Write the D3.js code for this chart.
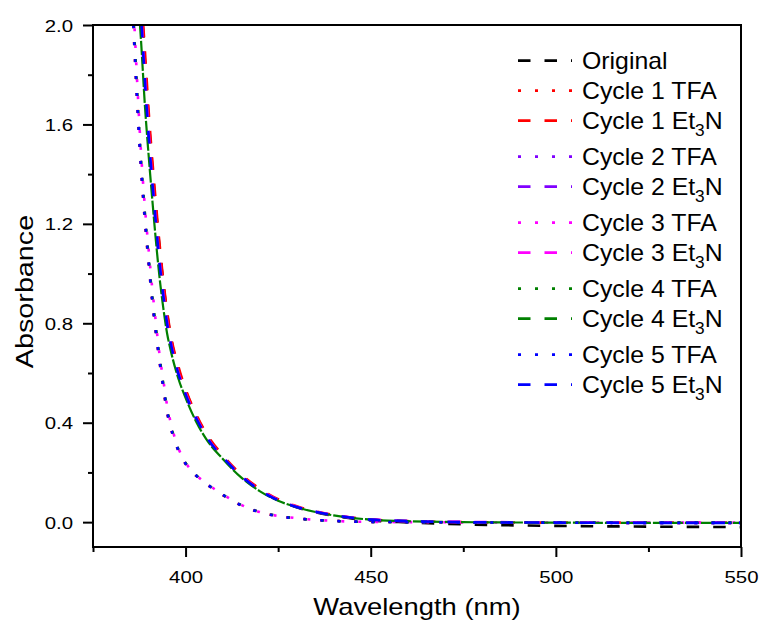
<!DOCTYPE html>
<html>
<head>
<meta charset="utf-8">
<script src="https://cdn.jsdelivr.net/npm/d3@7"></script>
<style>
  html, body { margin: 0; padding: 0; background: #fff; }
  svg { display: block; font-family: "Liberation Sans", Arial, sans-serif; }
</style>
</head>
<body>
<svg id="chart" width="762" height="621"></svg>
<script>
// Wavelength grid (nm) shared by every spectrum
const wavelengths = [385, 386, 387, 388, 389, 390, 391, 392, 393, 394, 395, 396, 398, 400,
                     403, 406, 410, 415, 420, 425, 430, 440, 450, 460, 475, 500, 525, 550];

// Absorbance values for each measurement
const original   = [2.85, 2.60, 2.35, 2.10, 1.86, 1.63, 1.43, 1.26, 1.10, 0.96, 0.84, 0.745, 0.62, 0.53,
                    0.425, 0.343, 0.266, 0.188, 0.130, 0.088, 0.060, 0.025, 0.007, -0.001, -0.009, -0.015, -0.018, -0.020];
const cycle1TFA  = [2.28, 1.96, 1.66, 1.41, 1.21, 1.04, 0.885, 0.755, 0.64, 0.535, 0.44, 0.378, 0.288, 0.234,
                    0.184, 0.149, 0.109, 0.067, 0.040, 0.024, 0.015, 0.005, 0.001, 0.000, -0.001, -0.002, -0.003, -0.003];
const cycle1Et3N = [2.90, 2.63, 2.38, 2.13, 1.90, 1.66, 1.46, 1.28, 1.115, 0.97, 0.85, 0.753, 0.63, 0.535,
                    0.43, 0.347, 0.27, 0.192, 0.135, 0.092, 0.064, 0.029, 0.011, 0.004, 0.000, -0.002, -0.002, -0.002];
const cycle2TFA  = [2.33, 2.00, 1.70, 1.44, 1.24, 1.06, 0.90, 0.775, 0.655, 0.55, 0.45, 0.385, 0.293, 0.237,
                    0.186, 0.151, 0.111, 0.069, 0.041, 0.025, 0.015, 0.005, 0.001, 0.000, -0.001, -0.002, -0.003, -0.003];
const cycle2Et3N = [2.72, 2.47, 2.23, 2.00, 1.75, 1.54, 1.35, 1.18, 1.03, 0.90, 0.79, 0.715, 0.595, 0.51,
                    0.41, 0.332, 0.26, 0.185, 0.128, 0.088, 0.061, 0.028, 0.010, 0.004, 0.000, -0.002, -0.002, -0.003];
const cycle3TFA  = [2.40, 2.06, 1.75, 1.48, 1.27, 1.10, 0.94, 0.80, 0.67, 0.57, 0.47, 0.40, 0.30, 0.24,
                    0.188, 0.152, 0.112, 0.070, 0.041, 0.025, 0.016, 0.005, 0.001, 0.000, -0.001, -0.002, -0.002, -0.002];
const cycle3Et3N = [2.78, 2.53, 2.28, 2.05, 1.80, 1.58, 1.38, 1.21, 1.05, 0.92, 0.81, 0.725, 0.605, 0.52,
                    0.418, 0.337, 0.263, 0.187, 0.130, 0.089, 0.062, 0.028, 0.011, 0.004, 0.001, -0.001, -0.002, -0.002];
const cycle4TFA  = [2.35, 2.01, 1.71, 1.45, 1.245, 1.07, 0.91, 0.78, 0.66, 0.555, 0.455, 0.39, 0.295, 0.238,
                    0.187, 0.151, 0.111, 0.069, 0.041, 0.025, 0.015, 0.005, 0.001, 0.000, -0.001, -0.002, -0.002, -0.002];
const cycle4Et3N = [2.65, 2.40, 2.15, 1.93, 1.68, 1.48, 1.30, 1.13, 0.98, 0.86, 0.76, 0.69, 0.58, 0.50,
                    0.40, 0.325, 0.255, 0.18, 0.125, 0.086, 0.060, 0.027, 0.010, 0.004, 0.000, -0.002, -0.003, -0.003];
const cycle5TFA  = [2.30, 1.97, 1.67, 1.42, 1.22, 1.05, 0.89, 0.76, 0.645, 0.54, 0.445, 0.38, 0.29, 0.235,
                    0.185, 0.150, 0.110, 0.068, 0.040, 0.024, 0.015, 0.005, 0.001, 0.000, -0.001, -0.002, -0.003, -0.003];
const cycle5Et3N = [2.75, 2.50, 2.26, 2.03, 1.78, 1.56, 1.37, 1.20, 1.04, 0.91, 0.80, 0.72, 0.60, 0.515,
                    0.415, 0.335, 0.262, 0.186, 0.129, 0.088, 0.061, 0.028, 0.010, 0.004, 0.000, -0.002, -0.003, -0.003];

// Legend labels, line colours and line types, in drawing order
const labels = ["Original", "Cycle 1 TFA", "Cycle 1 Et3N", "Cycle 2 TFA", "Cycle 2 Et3N",
                "Cycle 3 TFA", "Cycle 3 Et3N", "Cycle 4 TFA", "Cycle 4 Et3N", "Cycle 5 TFA", "Cycle 5 Et3N"];
const valueSets = [original, cycle1TFA, cycle1Et3N, cycle2TFA, cycle2Et3N,
                   cycle3TFA, cycle3Et3N, cycle4TFA, cycle4Et3N, cycle5TFA, cycle5Et3N];
const colors = ["#000000", "#ff0000", "#ff0000", "#8000ff", "#8000ff",
                "#ff00ff", "#ff00ff", "#008000", "#008000", "#0000ff", "#0000ff"];
const lineTypes = ["dash", "dot", "dash", "dot", "dash", "dot", "dash", "dot", "dash", "dot", "dash"];

// Axis ticks
const xMajorTicks = [400, 450, 500, 550];
const xMinorTicks = [375, 425, 475, 525];
const yMajorTicks = [0.0, 0.4, 0.8, 1.2, 1.6, 2.0];
const yMinorTicks = [0.2, 0.6, 1.0, 1.4, 1.8];

const plot = { left: 93, right: 741, top: 25, bottom: 547 };
const svg = d3.select("#chart");
const TICK_STRETCH = 1.2;

const x = d3.scaleLinear().domain([375, 550]).range([plot.left, plot.right]);
const y = d3.scaleLinear().domain([-0.1, 2.0]).range([plot.bottom, plot.top]);

const dashPattern = { dash: "12.5,14", dot: "3,14" };

// Clip region for the spectra
svg.append("defs").append("clipPath").attr("id", "plot-clip")
  .append("rect")
  .attr("x", plot.left).attr("y", plot.top)
  .attr("width", plot.right - plot.left).attr("height", plot.bottom - plot.top);

// Spectra
const line = d3.line()
  .x((d, i) => x(wavelengths[i]))
  .y(d => y(d))
  .curve(d3.curveMonotoneX);

// distance along a path where it first enters the plot from the top
function entryLength(node) {
  let lo = 0, hi = node.getTotalLength();
  for (let k = 0; k < 40; k++) {
    const mid = (lo + hi) / 2;
    if (node.getPointAtLength(mid).y < plot.top) lo = mid; else hi = mid;
  }
  return lo;
}

const curves = svg.append("g").attr("clip-path", "url(#plot-clip)");
valueSets.forEach((vals, i) => {
  const solidish = labels[i] === "Cycle 4 Et3N";
  const dash = solidish ? "14,2" : dashPattern[lineTypes[i]];
  // magenta TFA dots sit a little behind the others along the curve
  const phase = (colors[i] === "#ff00ff" && lineTypes[i] === "dot") ? 3 : 0;
  const path = curves.append("path")
    .datum(vals)
    .attr("d", line)
    .attr("fill", "none")
    .attr("stroke", colors[i])
    .attr("stroke-width", solidish ? 2.2 : 2.6)
    .attr("stroke-dasharray", dash);
  // start every dash pattern where the curve crosses the top of the frame
  path.attr("stroke-dashoffset", -(entryLength(path.node()) + phase));
});

// Axes
function styleAxis(g) {
  g.select(".domain").remove();
  g.selectAll(".tick line").attr("stroke", "#000").attr("stroke-width", 2);
}

svg.append("g")
  .attr("transform", `translate(0,${plot.bottom})`)
  .call(d3.axisBottom(x).tickValues(xMinorTicks).tickSize(5).tickFormat(""))
  .call(styleAxis);

const xAxis = svg.append("g")
  .attr("transform", `translate(0,${plot.bottom})`)
  .call(d3.axisBottom(x).tickValues(xMajorTicks).tickSize(10).tickFormat(d3.format("d")))
  .call(styleAxis);
xAxis.selectAll(".tick text")
  .attr("y", null).attr("dy", null)
  .attr("transform", `translate(0,36) scale(${TICK_STRETCH},1)`)
  .attr("fill", "#000")
  .style("font-size", "17px")
  .style("font-family", "'Liberation Sans', Arial, sans-serif");

svg.append("g")
  .attr("transform", `translate(${plot.left},0)`)
  .call(d3.axisLeft(y).tickValues(yMinorTicks).tickSize(5).tickFormat(""))
  .call(styleAxis);

const yAxis = svg.append("g")
  .attr("transform", `translate(${plot.left},0)`)
  .call(d3.axisLeft(y).tickValues(yMajorTicks).tickSize(10).tickFormat(d3.format(".1f")))
  .call(styleAxis);
yAxis.selectAll(".tick text")
  .attr("x", null).attr("dy", null)
  .attr("transform", `translate(-20,6) scale(${TICK_STRETCH},1)`)
  .attr("fill", "#000")
  .style("font-size", "17px")
  .style("font-family", "'Liberation Sans', Arial, sans-serif");

// Plot frame
svg.append("rect")
  .attr("x", plot.left).attr("y", plot.top)
  .attr("width", plot.right - plot.left).attr("height", plot.bottom - plot.top)
  .attr("fill", "none").attr("stroke", "#000").attr("stroke-width", 2);

// Axis titles
svg.append("text")
  .attr("transform", `translate(${(plot.left + plot.right) / 2},614.5) scale(1.19,1)`)
  .attr("text-anchor", "middle")
  .style("font-size", "23px")
  .text("Wavelength (nm)");

svg.append("text")
  .attr("transform", `translate(33,291.5) rotate(-90) scale(1.25,1)`)
  .attr("text-anchor", "middle")
  .style("font-size", "23px")
  .text("Absorbance");

// Legend
const legend = svg.append("g");
let rowY = 60.7;
labels.forEach((label, i) => {
  const row = legend.append("g");
  row.append("line")
    .attr("x1", 518).attr("x2", 572)
    .attr("y1", rowY).attr("y2", rowY)
    .attr("stroke", colors[i])
    .attr("stroke-width", 2.8)
    .attr("stroke-dasharray", dashPattern[lineTypes[i]]);

  const t = row.append("text")
    .attr("transform", `translate(582,${rowY + 8}) scale(1.08,1)`)
    .style("font-size", "23px");
  const m = label.match(/^(.*Et)3(N)$/);
  if (m) {
    t.append("tspan").text(m[1]);
    t.append("tspan").attr("dy", 7).style("font-size", "16px").text("3");
    t.append("tspan").attr("dy", -7).text(m[2]);
  } else {
    t.text(label);
  }
  rowY += m ? 36 : 30;
});
</script>
</body>
</html>
